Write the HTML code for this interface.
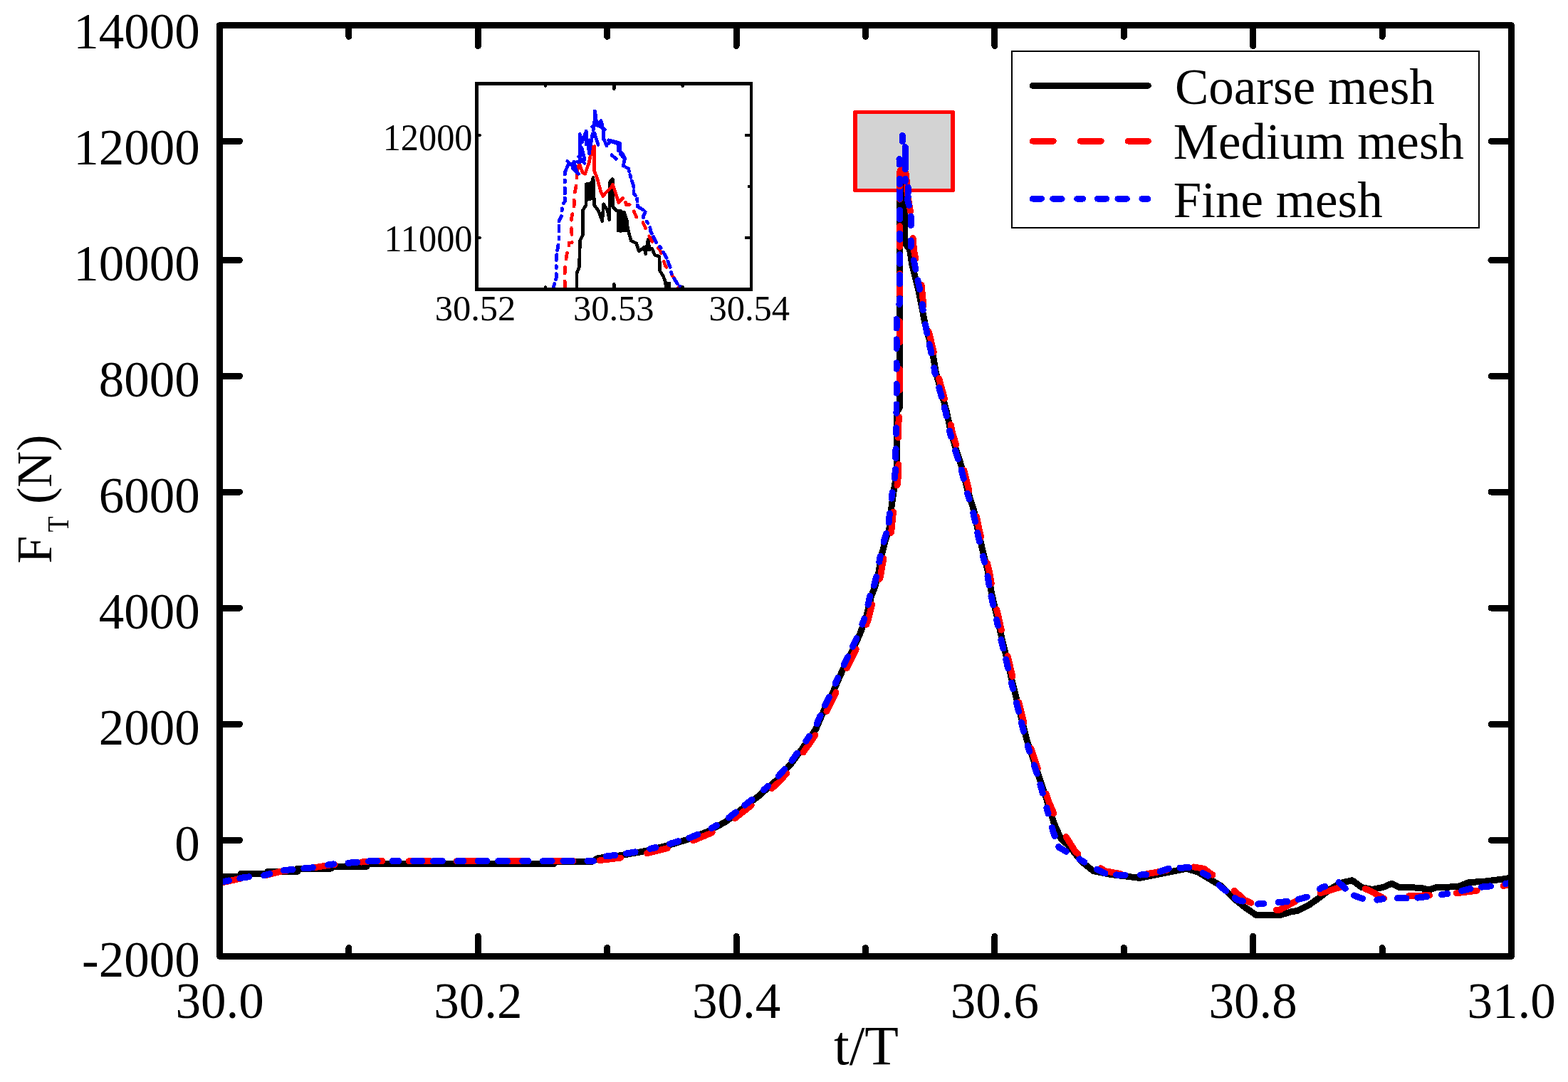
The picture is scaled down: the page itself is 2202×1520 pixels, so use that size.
<!DOCTYPE html>
<html><head><meta charset="utf-8"><title>F_T vs t/T</title>
<style>html,body{margin:0;padding:0;background:#fff;}svg{display:block;}</style></head>
<body><svg width="2202" height="1520" viewBox="0 0 2202 1520" shape-rendering="crispEdges" style="font-family:'Liberation Serif','Times New Roman',serif">
<rect width="2202" height="1520" fill="#fff"/>
<rect x="1201" y="157.5" width="137" height="109.8" fill="#d3d3d3" stroke="#ff0000" stroke-width="5.5" stroke-linejoin="round"/>
<polyline fill="none" stroke-linejoin="round" stroke="#000" stroke-width="9" points="309.0,1231.5 338.0,1231.5 338.0,1227.7 376.0,1227.7 376.0,1224.2 418.0,1224.2 418.0,1220.0 465.0,1220.0 465.0,1217.2 515.0,1217.2 515.0,1213.8 778.0,1213.8 778.0,1210.1 832.0,1210.1 840.0,1205.5 873.0,1201.5 904.0,1196.0 937.0,1188.0 970.0,1178.0 994.0,1168.0 1019.0,1154.5 1045.0,1134.0 1066.0,1117.8 1091.0,1095.6 1112.0,1071.6 1132.0,1044.2 1146.0,1023.7 1158.3,995.4 1170.1,971.7 1182.0,944.4 1195.0,918.3 1206.9,892.3 1216.4,867.4 1223.5,837.8 1228.5,825.0 1233.5,806.4 1238.3,778.8 1244.5,755.3 1248.7,744.3 1251.4,716.6 1254.2,695.9 1256.9,679.4 1259.0,661.4 1259.0,580.0 1263.5,572.0 1263.5,268.0 1266.0,262.0 1270.0,285.0 1270.0,341.0 1277.4,350.0 1281.0,372.6 1290.3,409.5 1295.8,438.0 1299.0,454.7 1304.8,476.0 1310.6,500.7 1314.5,524.0 1322.3,552.0 1329.6,579.2 1335.5,607.6 1342.6,631.2 1350.9,657.3 1359.2,690.4 1367.5,716.4 1373.4,744.9 1380.5,775.6 1387.6,804.0 1392.3,832.4 1399.4,863.2 1406.6,895.5 1413.7,923.9 1420.8,954.7 1427.9,983.1 1435.0,1011.5 1442.1,1040.0 1451.6,1068.4 1461.0,1096.8 1470.5,1125.2 1480.0,1156.0 1489.5,1177.3 1503.5,1191.0 1519.0,1210.5 1535.4,1223.6 1559.9,1228.5 1600.8,1233.4 1625.3,1228.5 1649.8,1223.6 1666.2,1220.3 1682.5,1225.2 1698.9,1235.0 1715.2,1244.8 1731.6,1261.2 1747.9,1274.3 1764.3,1285.7 1797.0,1285.7 1813.3,1280.8 1822.5,1279.4 1837.5,1271.9 1852.5,1261.4 1867.4,1249.5 1882.4,1240.5 1898.9,1236.7 1912.4,1246.5 1927.4,1249.5 1942.4,1246.5 1954.4,1241.2 1964.8,1246.5 1994.8,1247.2 2006.8,1250.2 2017.3,1246.5 2047.3,1245.7 2062.3,1239.7 2084.7,1238.2 2114.7,1234.5 2122.5,1232.0"/>
<polyline fill="none" stroke-linejoin="round" stroke="#ff0000" stroke-width="9" stroke-dasharray="29.4 37.6" stroke-linecap="round" points="309.0,1240.5 343.0,1233.0 371.5,1230.0 395.0,1224.0 437.0,1219.5 464.0,1215.0 492.6,1212.5 522.0,1209.6 834.0,1209.6 843.0,1208.5 876.0,1204.5 907.0,1199.0 940.0,1191.0 973.0,1181.0 997.0,1171.0 1022.0,1157.5 1048.0,1137.0 1069.0,1120.8 1094.0,1098.6 1115.0,1074.6 1135.0,1047.2 1149.0,1026.7 1161.3,998.4 1173.1,974.7 1185.0,947.4 1198.0,921.3 1209.9,895.3 1219.4,870.4 1226.5,840.8 1231.5,828.0 1236.5,809.4 1241.3,781.8 1247.5,758.3 1251.7,747.3 1254.4,719.6 1257.2,698.9 1259.9,682.4 1262.0,664.4 1261.5,600.0 1263.5,572.0 1263.5,262.0"/>
<polyline fill="none" stroke-linejoin="round" stroke="#ff0000" stroke-width="9" stroke-dasharray="29.4 37.6" stroke-linecap="round" points="1273.7,268.0 1279.0,300.0 1283.8,354.0 1294.0,400.0 1298.0,440.0 1306.8,476.0 1312.6,500.7 1316.5,524.0 1324.3,552.0 1331.6,579.2 1337.5,607.6 1344.6,631.2 1352.9,657.3 1361.2,690.4 1369.5,716.4 1375.4,744.9 1382.5,775.6 1389.6,804.0 1394.3,832.4 1401.4,863.2 1408.6,895.5 1415.7,923.9 1422.8,954.7 1429.9,983.1 1437.0,1011.5 1444.1,1040.0 1453.6,1068.4 1463.0,1096.8 1472.5,1125.2 1486.3,1158.2 1510.9,1197.4 1551.7,1223.6 1584.4,1229.6 1617.1,1226.8 1666.2,1216.2 1690.7,1220.3 1731.6,1249.7 1747.9,1264.4 1780.6,1278.3 1797.0,1278.3 1822.5,1264.4 1845.0,1256.9 1867.4,1251.0 1900.4,1240.5 1927.4,1253.2 1952.9,1267.4 1979.8,1258.4 2009.8,1257.7 2039.8,1255.5 2069.8,1251.7 2099.7,1247.2 2122.5,1242.0"/>
<polyline fill="none" stroke-linejoin="round" stroke="#0000ff" stroke-width="9" stroke-dasharray="12.7 15.8 12.8 21.2 8.4 20.3" stroke-linecap="round" points="309.0,1239.5 343.0,1232.5 371.5,1229.6 395.0,1223.0 437.0,1219.0 464.0,1214.3 492.6,1212.0 522.0,1209.6 834.0,1209.6 838.5,1204.5 871.5,1200.5 902.5,1195.0 935.5,1187.0 968.5,1177.0 992.5,1167.0 1017.5,1153.5 1043.5,1133.0 1064.5,1116.8 1089.5,1094.6 1110.5,1070.6 1130.5,1043.2 1144.5,1022.7 1156.8,994.4 1168.6,970.7 1180.5,943.4 1193.5,917.3 1205.4,891.3 1214.9,866.4 1222.0,836.8 1227.0,824.0 1232.0,805.4 1236.8,777.8 1243.0,754.3 1247.2,743.3 1249.9,715.6 1252.7,694.9 1255.4,678.4 1257.5,660.4 1259.0,578.0 1259.0,440.0 1263.6,425.0 1263.6,262.0"/>
<polyline fill="none" stroke-linejoin="round" stroke="#0000ff" stroke-width="9" stroke-dasharray="12.7 15.8 12.8 21.2 8.4 20.3" stroke-linecap="round" points="1275.2,276.0 1274.6,280.5 1279.2,299.0 1279.2,354.0 1283.8,368.0 1288.4,391.0 1294.0,418.7 1297.6,446.3 1303.3,476.0 1309.1,500.7 1313.0,524.0 1320.8,552.0 1328.1,579.2 1334.0,607.6 1341.1,631.2 1349.4,657.3 1357.7,690.4 1366.0,716.4 1371.9,744.9 1379.0,775.6 1386.1,804.0 1390.8,832.4 1397.9,863.2 1405.1,895.5 1412.2,923.9 1419.3,954.7 1426.4,983.1 1433.5,1011.5 1440.6,1040.0 1450.1,1068.4 1459.5,1096.8 1478.8,1167.8 1487.1,1190.3 1510.9,1204.0 1535.4,1218.7 1555.0,1228.5 1584.4,1229.6 1617.1,1228.5 1643.3,1219.5 1674.4,1218.7 1698.9,1231.7 1715.2,1246.5 1738.1,1264.4 1764.3,1270.2 1813.3,1266.1 1836.0,1259.9 1857.0,1246.5 1879.4,1239.0 1898.9,1257.0 1922.9,1265.9 1949.9,1261.4 1982.8,1262.2 2012.8,1258.4 2042.8,1254.0 2069.8,1247.2 2099.7,1244.2 2122.5,1240.0"/>
<polyline fill="none" stroke-linejoin="round" stroke-linecap="round" stroke="#ff0000" stroke-width="9" points="1263.6,262 1264,240 1268,234 1272,243 1274,262 1273.7,268"/>
<line x1="1267.3" y1="190.4" x2="1267.3" y2="198.7" stroke="#0000ff" stroke-width="9" stroke-linecap="round"/>
<line x1="1271.3" y1="206.7" x2="1271.3" y2="238.0" stroke="#0000ff" stroke-width="9" stroke-linecap="round"/>
<line x1="1263.0" y1="223.5" x2="1263.0" y2="231.0" stroke="#0000ff" stroke-width="9" stroke-linecap="round"/>
<line x1="1263.4" y1="251.0" x2="1263.4" y2="259.0" stroke="#0000ff" stroke-width="9" stroke-linecap="round"/>
<line x1="1271.3" y1="251.0" x2="1271.3" y2="255.0" stroke="#0000ff" stroke-width="9" stroke-linecap="round"/>
<line x1="1275.2" y1="263.0" x2="1275.2" y2="271.0" stroke="#0000ff" stroke-width="9" stroke-linecap="round"/>
<rect x="308.5" y="35.5" width="1814" height="1308" fill="none" stroke="#000" stroke-width="9" stroke-linejoin="round"/>
<line x1="489.9" y1="1343.5" x2="489.9" y2="1331.5" stroke="#000" stroke-width="9" stroke-linecap="round"/>
<line x1="489.9" y1="35.5" x2="489.9" y2="51.3" stroke="#000" stroke-width="9" stroke-linecap="round"/>
<line x1="671.3" y1="1343.5" x2="671.3" y2="1315.3" stroke="#000" stroke-width="9" stroke-linecap="round"/>
<line x1="671.3" y1="35.5" x2="671.3" y2="64.4" stroke="#000" stroke-width="9" stroke-linecap="round"/>
<line x1="852.7" y1="1343.5" x2="852.7" y2="1331.5" stroke="#000" stroke-width="9" stroke-linecap="round"/>
<line x1="852.7" y1="35.5" x2="852.7" y2="51.3" stroke="#000" stroke-width="9" stroke-linecap="round"/>
<line x1="1034.1" y1="1343.5" x2="1034.1" y2="1315.3" stroke="#000" stroke-width="9" stroke-linecap="round"/>
<line x1="1034.1" y1="35.5" x2="1034.1" y2="64.4" stroke="#000" stroke-width="9" stroke-linecap="round"/>
<line x1="1215.5" y1="1343.5" x2="1215.5" y2="1331.5" stroke="#000" stroke-width="9" stroke-linecap="round"/>
<line x1="1215.5" y1="35.5" x2="1215.5" y2="51.3" stroke="#000" stroke-width="9" stroke-linecap="round"/>
<line x1="1396.9" y1="1343.5" x2="1396.9" y2="1315.3" stroke="#000" stroke-width="9" stroke-linecap="round"/>
<line x1="1396.9" y1="35.5" x2="1396.9" y2="64.4" stroke="#000" stroke-width="9" stroke-linecap="round"/>
<line x1="1578.3" y1="1343.5" x2="1578.3" y2="1331.5" stroke="#000" stroke-width="9" stroke-linecap="round"/>
<line x1="1578.3" y1="35.5" x2="1578.3" y2="51.3" stroke="#000" stroke-width="9" stroke-linecap="round"/>
<line x1="1759.7" y1="1343.5" x2="1759.7" y2="1315.3" stroke="#000" stroke-width="9" stroke-linecap="round"/>
<line x1="1759.7" y1="35.5" x2="1759.7" y2="64.4" stroke="#000" stroke-width="9" stroke-linecap="round"/>
<line x1="1941.1" y1="1343.5" x2="1941.1" y2="1331.5" stroke="#000" stroke-width="9" stroke-linecap="round"/>
<line x1="1941.1" y1="35.5" x2="1941.1" y2="51.3" stroke="#000" stroke-width="9" stroke-linecap="round"/>
<line x1="308.5" y1="198.25" x2="336.5" y2="198.25" stroke="#000" stroke-width="9" stroke-linecap="round"/>
<line x1="2122.5" y1="198.25" x2="2094" y2="198.25" stroke="#000" stroke-width="9" stroke-linecap="round"/>
<line x1="308.5" y1="365.50" x2="336.5" y2="365.50" stroke="#000" stroke-width="9" stroke-linecap="round"/>
<line x1="2122.5" y1="365.50" x2="2094" y2="365.50" stroke="#000" stroke-width="9" stroke-linecap="round"/>
<line x1="308.5" y1="528.25" x2="336.5" y2="528.25" stroke="#000" stroke-width="9" stroke-linecap="round"/>
<line x1="2122.5" y1="528.25" x2="2094" y2="528.25" stroke="#000" stroke-width="9" stroke-linecap="round"/>
<line x1="308.5" y1="691.00" x2="336.5" y2="691.00" stroke="#000" stroke-width="9" stroke-linecap="round"/>
<line x1="2122.5" y1="691.00" x2="2094" y2="691.00" stroke="#000" stroke-width="9" stroke-linecap="round"/>
<line x1="308.5" y1="854.00" x2="336.5" y2="854.00" stroke="#000" stroke-width="9" stroke-linecap="round"/>
<line x1="2122.5" y1="854.00" x2="2094" y2="854.00" stroke="#000" stroke-width="9" stroke-linecap="round"/>
<line x1="308.5" y1="1017.40" x2="336.5" y2="1017.40" stroke="#000" stroke-width="9" stroke-linecap="round"/>
<line x1="2122.5" y1="1017.40" x2="2094" y2="1017.40" stroke="#000" stroke-width="9" stroke-linecap="round"/>
<line x1="308.5" y1="1180.30" x2="336.5" y2="1180.30" stroke="#000" stroke-width="9" stroke-linecap="round"/>
<line x1="2122.5" y1="1180.30" x2="2094" y2="1180.30" stroke="#000" stroke-width="9" stroke-linecap="round"/>
<text x="280.7" y="67.9" text-anchor="end" font-size="71">14000</text>
<text x="280.7" y="230.9" text-anchor="end" font-size="71">12000</text>
<text x="280.7" y="393.9" text-anchor="end" font-size="71">10000</text>
<text x="280.7" y="556.9" text-anchor="end" font-size="71">8000</text>
<text x="280.7" y="719.9" text-anchor="end" font-size="71">6000</text>
<text x="280.7" y="882.9" text-anchor="end" font-size="71">4000</text>
<text x="280.7" y="1045.9" text-anchor="end" font-size="71">2000</text>
<text x="280.7" y="1208.9" text-anchor="end" font-size="71">0</text>
<text x="280.7" y="1371.9" text-anchor="end" font-size="71">-2000</text>
<text x="308.5" y="1429.7" text-anchor="middle" font-size="71">30.0</text>
<text x="671.3" y="1429.7" text-anchor="middle" font-size="71">30.2</text>
<text x="1034.1" y="1429.7" text-anchor="middle" font-size="71">30.4</text>
<text x="1396.9" y="1429.7" text-anchor="middle" font-size="71">30.6</text>
<text x="1759.7" y="1429.7" text-anchor="middle" font-size="71">30.8</text>
<text x="2122.5" y="1429.7" text-anchor="middle" font-size="71">31.0</text>
<text x="1171" y="1495" font-size="78">t/T</text>
<text transform="translate(71.8,791.8) rotate(-90)" font-size="70.3">F</text>
<text transform="translate(95.9,747.6) rotate(-90) scale(0.85,1)" font-size="42.6">T</text>
<text transform="translate(71.8,708.1) rotate(-90)" font-size="70.3">(N)</text>
<rect x="1421" y="72" width="656" height="248" fill="none" stroke="#000" stroke-width="1.6"/>
<line x1="1450" y1="120.4" x2="1612.5" y2="120.4" stroke="#000" stroke-width="8.6" stroke-linecap="round"/>
<line x1="1450" y1="198.3" x2="1612.5" y2="198.3" stroke="#ff0000" stroke-width="8.6" stroke-linecap="round" stroke-dasharray="29.4 37.6"/>
<line x1="1450" y1="279.3" x2="1612.5" y2="279.3" stroke="#0000ff" stroke-width="8.6" stroke-linecap="round" stroke-dasharray="12.7 15.8 12.8 21.2 8.4 20.3"/>
<text x="1650" y="146.3" font-size="71">Coarse mesh</text>
<text x="1647.8" y="223.1" font-size="71">Medium mesh</text>
<text x="1647.8" y="304.8" font-size="71">Fine mesh</text>
<rect x="669.5" y="117.7" width="385.5" height="288.6" fill="#fff" stroke="none"/>
<svg x="669.5" y="117.7" width="385.5" height="288.6" viewBox="669.5 117.7 385.5 288.6" overflow="hidden">
<polygon fill="#000" points="821.0,258.0 829.0,257.0 832.0,250.0 836.0,252.0 836.0,280.0 828.0,282.0 821.0,284.0"/>
<polygon fill="#000" points="866.0,296.0 878.0,296.0 883.0,310.0 883.0,326.0 866.0,326.0"/>
<polygon fill="#000" points="934.0,396.0 942.0,396.0 942.0,407.0 934.0,407.0"/>
<polyline fill="none" stroke-linejoin="round" stroke="#000" stroke-width="4.6" points="809.9,408.0 809.9,384.2 813.5,375.0 814.5,338.1 818.2,330.8 818.2,295.8 822.8,288.4 822.8,258.9 831.0,257.1 832.9,249.7 834.7,288.4 840.3,295.8 845.8,310.5 847.6,286.6 853.1,295.8 855.9,308.7 856.8,255.3 860.5,251.6 860.5,290.3 866.0,295.8 871.6,295.8 871.6,325.2 878.9,306.8 882.6,325.2 886.3,338.1 893.7,341.8 897.4,352.9 904.7,347.3 906.6,356.6 910.2,336.3 912.1,351.0 915.8,349.2 919.5,358.4 925.9,360.3 926.8,380.5 931.4,387.9 934.2,395.2 936.0,408.0"/>
<polyline fill="none" stroke-linejoin="round" stroke-linecap="round" stroke="#ff0000" stroke-width="4.6" stroke-dasharray="9 11" points="793.3,404.0 793.3,376.8 796.0,356.6 798.8,351.0 798.8,340.9 803.4,340.9 802.5,321.6 802.5,306.8 806.2,289.3 806.2,275.5 809.9,257.1 809.9,242.4"/>
<polyline fill="none" stroke-linejoin="round" stroke-linecap="round" stroke="#ff0000" stroke-width="4.6" points="809.9,242.4 813.5,229.5 818.2,242.4 821.8,244.2 827.4,227.6 831.0,209.2 834.7,205.5 834.7,240.5 838.4,249.7 844.0,270.0 846.7,275.5 851.3,270.0 858.7,262.6 860.5,258.9 864.2,270.0 868.8,284.7"/>
<polyline fill="none" stroke-linejoin="round" stroke-linecap="round" stroke="#ff0000" stroke-width="4.6" stroke-dasharray="9 12" points="868.8,284.7 877.1,275.5 879.0,287.5 886.3,287.5 893.7,305.0 902.9,312.3 910.2,329.0 914.0,336.3 919.5,343.7 926.8,351.0 934.2,373.0 939.7,380.5 950.8,397.0 952.6,404.0"/>
<polyline fill="none" stroke-linejoin="round" stroke-linecap="round" stroke="#0000ff" stroke-width="4.8" stroke-dasharray="8 6 8 8 3 8" points="776.7,406.0 781.3,389.7 781.3,376.8 781.3,360.3 785.0,338.1 785.0,310.5 788.7,303.1 789.6,288.4 793.3,282.9 793.3,242.4"/>
<polyline fill="none" stroke-linejoin="round" stroke-linecap="round" stroke="#0000ff" stroke-width="4.8" stroke-dasharray="26 5 14 5" points="793.3,242.4 797.9,231.3 805.3,229.5 808.9,240.5 806.2,226.7 814.5,227.6 814.5,188.9 817.2,200.0 822.8,185.3 827.4,214.7 831.0,194.5 834.7,174.2 835.6,156.7 838.4,177.9 844.0,169.6 847.6,181.6 847.6,194.5 852.2,205.5 856.8,198.2"/>
<polyline fill="none" stroke-linejoin="round" stroke-linecap="round" stroke="#0000ff" stroke-width="4.8" stroke-dasharray="10 4 8 5 4 5" points="856.8,198.2 867.9,201.8 868.8,212.9 871.6,216.6 877.1,223.9 875.3,233.1 882.6,236.8 885.4,247.9 890.0,262.6 890.0,271.8 894.6,277.4 895.5,290.3"/>
<polyline fill="none" stroke-linejoin="round" stroke-linecap="round" stroke="#0000ff" stroke-width="4.8" stroke-dasharray="9 5 9 7 3 7" points="895.5,290.3 906.6,296.7 902.9,305.0 912.1,316.0 913.9,325.2 921.3,340.0 928.7,349.2 936.0,362.1 941.6,376.8 943.4,386.0 952.6,400.8 958.0,404.0"/>
<path fill="none" stroke="#0000ff" stroke-width="4.8" stroke-linecap="round" stroke-linejoin="round" d="M835.3,156.0 L835.3,175.0 L831.6,178.0 M842.0,177.0 L849.5,182.0 M847.4,188.4 L847.4,195.8 M814.2,188.4 L814.2,215.8 M823.2,184.2 L823.2,203.2 M827.4,196.8 L827.4,215.8 M835.0,187.4 L840.0,203.2 M816.8,207.4 L821.0,224.2 M812.6,220.0 L821.0,229.5 M796.8,226.3 L809.5,239.0 M804.2,236.8 L812.6,244.2 M854.7,196.8 L870.5,201.0 L870.5,212.6 L874.7,216.8 L877.9,223.2 M859.0,217.9 L865.3,223.2"/>
</svg>
<rect x="669.5" y="117.7" width="385.5" height="288.6" fill="none" stroke="#000" stroke-width="4.5"/>
<line x1="765.9" y1="406.3" x2="765.9" y2="403.3" stroke="#000" stroke-width="4.5" stroke-linecap="round"/>
<line x1="765.9" y1="117.7" x2="765.9" y2="120.7" stroke="#000" stroke-width="4.5" stroke-linecap="round"/>
<line x1="862.3" y1="406.3" x2="862.3" y2="399.3" stroke="#000" stroke-width="4.5" stroke-linecap="round"/>
<line x1="862.3" y1="117.7" x2="862.3" y2="124.7" stroke="#000" stroke-width="4.5" stroke-linecap="round"/>
<line x1="958.6" y1="406.3" x2="958.6" y2="403.3" stroke="#000" stroke-width="4.5" stroke-linecap="round"/>
<line x1="958.6" y1="117.7" x2="958.6" y2="120.7" stroke="#000" stroke-width="4.5" stroke-linecap="round"/>
<line x1="669.5" y1="334.1" x2="673.5" y2="334.1" stroke="#000" stroke-width="4.5" stroke-linecap="round"/>
<line x1="1055" y1="334.1" x2="1048.0" y2="334.1" stroke="#000" stroke-width="4.5" stroke-linecap="round"/>
<line x1="1055" y1="262.0" x2="1052.0" y2="262.0" stroke="#000" stroke-width="4.5" stroke-linecap="round"/>
<line x1="669.5" y1="189.8" x2="673.5" y2="189.8" stroke="#000" stroke-width="4.5" stroke-linecap="round"/>
<line x1="1055" y1="189.8" x2="1048.0" y2="189.8" stroke="#000" stroke-width="4.5" stroke-linecap="round"/>
<text transform="translate(663.5,211) scale(0.95,1)" text-anchor="end" font-size="53">12000</text>
<text transform="translate(663.5,353.2) scale(0.95,1)" text-anchor="end" font-size="53">11000</text>
<text x="667.5" y="450" text-anchor="middle" font-size="50.5">30.52</text>
<text x="861.7" y="450" text-anchor="middle" font-size="50.5">30.53</text>
<text x="1052.2" y="450" text-anchor="middle" font-size="50.5">30.54</text>
</svg></body></html>
